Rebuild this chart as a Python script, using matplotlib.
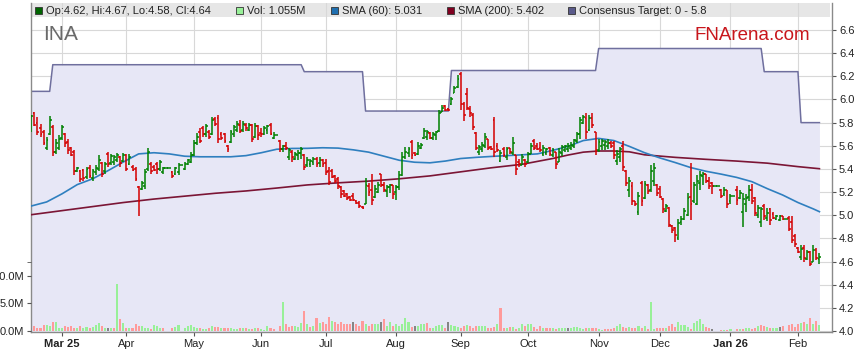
import numpy as np
import pandas as pd
import matplotlib
matplotlib.use('Agg')
import matplotlib.pyplot as plt
from matplotlib.collections import LineCollection
from matplotlib.patches import Rectangle
from matplotlib.ticker import FuncFormatter, FixedLocator

plt.rcParams['font.family'] = ['Liberation Sans', 'DejaVu Sans']

# trading days (weekdays, holidays shown as flat bars with no volume)
dates = pd.bdate_range('2025-02-17', '2026-02-11')

opens = [
    5.73, 5.88, 5.80, 5.75, 5.72, 5.58, 5.70, 5.76, 5.55, 5.58,
    5.67, 5.70, 5.63, 5.58, 5.55, 5.38, 5.38, 5.39, 5.33, 5.41,
    5.32, 5.37, 5.40, 5.45, 5.38, 5.53, 5.45, 5.46, 5.48, 5.50,
    5.47, 5.52, 5.44, 5.42, 5.40, 5.24, 5.23, 5.25, 5.40, 5.44,
    5.42, 5.44, 5.40, 5.37, 5.41, 5.41, 5.37, 5.36, 5.37, 5.43,
    5.40, 5.44, 5.46, 5.52, 5.62, 5.72, 5.75, 5.70, 5.72, 5.70,
    5.83, 5.84, 5.70, 5.70, 5.60, 5.63, 5.70, 5.74, 5.78, 5.74,
    5.78, 5.74, 5.78, 5.68, 5.77, 5.71, 5.70, 5.74, 5.78, 5.67,
    5.69, 5.64, 5.57, 5.60, 5.50, 5.55, 5.49, 5.52, 5.54, 5.52,
    5.43, 5.44, 5.46, 5.49, 5.45, 5.48, 5.45, 5.38, 5.38, 5.34,
    5.31, 5.24, 5.21, 5.18, 5.16, 5.17, 5.12, 5.11, 5.07, 5.10,
    5.25, 5.22, 5.16, 5.20, 5.36, 5.26, 5.21, 5.24, 5.26, 5.20,
    5.24, 5.35, 5.50, 5.54, 5.63, 5.54, 5.53, 5.58, 5.67, 5.68,
    5.71, 5.67, 5.69, 5.73, 5.89, 5.94, 5.92, 5.96, 6.06, 6.11,
    6.22, 5.96, 6.05, 5.92, 5.87, 5.71, 5.55, 5.57, 5.60, 5.66,
    5.59, 5.82, 5.60, 5.47, 5.57, 5.50, 5.58, 5.54, 5.52, 5.46,
    5.43, 5.48, 5.46, 5.53, 5.64, 5.60, 5.58, 5.53, 5.54, 5.58,
    5.52, 5.55, 5.46, 5.54, 5.56, 5.57, 5.58, 5.60, 5.64, 5.70,
    5.80, 5.84, 5.74, 5.84, 5.72, 5.56, 5.60, 5.61, 5.60, 5.62,
    5.62, 5.47, 5.50, 5.60, 5.38, 5.22, 5.25, 5.12, 5.03, 5.28,
    5.15, 5.26, 5.22, 5.30, 5.26, 5.23, 5.14, 5.04, 5.06, 4.91,
    4.89, 4.80, 4.94, 4.97, 5.00, 5.16, 5.12, 5.10, 5.28, 5.34,
    5.36, 5.30, 5.28, 5.25, 5.25, 5.22, 5.18, 5.22, 5.12, 5.17,
    5.22, 5.15, 5.03, 5.10, 5.16, 5.22, 5.15, 5.00, 4.94, 5.08,
    4.98, 5.05, 5.01, 4.97, 4.96, 4.99, 4.97, 4.98, 4.94, 4.82,
    4.72, 4.64, 4.72, 4.62, 4.68, 4.60, 4.70, 4.62,
]
highs = [
    5.87, 5.89, 5.85, 5.79, 5.74, 5.68, 5.86, 5.78, 5.66, 5.69,
    5.78, 5.71, 5.66, 5.59, 5.56, 5.42, 5.39, 5.40, 5.42, 5.43,
    5.40, 5.43, 5.52, 5.46, 5.46, 5.55, 5.53, 5.52, 5.54, 5.51,
    5.54, 5.53, 5.53, 5.43, 5.42, 5.25, 5.30, 5.40, 5.58, 5.46,
    5.43, 5.46, 5.48, 5.42, 5.41, 5.41, 5.38, 5.42, 5.45, 5.43,
    5.46, 5.49, 5.55, 5.65, 5.71, 5.75, 5.77, 5.79, 5.74, 5.85,
    5.85, 5.87, 5.72, 5.71, 5.61, 5.74, 5.78, 5.81, 5.82, 5.81,
    5.80, 5.80, 5.79, 5.80, 5.78, 5.75, 5.77, 5.78, 5.80, 5.72,
    5.69, 5.65, 5.61, 5.63, 5.58, 5.56, 5.55, 5.56, 5.59, 5.53,
    5.50, 5.49, 5.50, 5.50, 5.50, 5.49, 5.49, 5.42, 5.40, 5.35,
    5.33, 5.25, 5.22, 5.19, 5.17, 5.19, 5.13, 5.12, 5.08, 5.32,
    5.28, 5.36, 5.26, 5.29, 5.36, 5.29, 5.26, 5.27, 5.26, 5.26,
    5.38, 5.55, 5.59, 5.59, 5.65, 5.55, 5.63, 5.62, 5.75, 5.74,
    5.72, 5.72, 5.73, 5.91, 5.95, 5.95, 5.93, 6.02, 6.12, 6.21,
    6.24, 5.98, 6.10, 5.94, 5.88, 5.72, 5.61, 5.63, 5.71, 5.66,
    5.60, 5.85, 5.62, 5.56, 5.59, 5.59, 5.58, 5.68, 5.52, 5.49,
    5.53, 5.49, 5.55, 5.62, 5.66, 5.62, 5.63, 5.61, 5.58, 5.59,
    5.58, 5.55, 5.58, 5.61, 5.61, 5.62, 5.63, 5.66, 5.72, 5.85,
    5.87, 5.88, 5.87, 5.88, 5.72, 5.66, 5.66, 5.65, 5.66, 5.64,
    5.64, 5.56, 5.59, 5.64, 5.39, 5.33, 5.29, 5.12, 5.20, 5.30,
    5.30, 5.27, 5.43, 5.45, 5.27, 5.25, 5.15, 5.10, 5.07, 4.92,
    4.90, 4.97, 4.99, 5.06, 5.19, 5.45, 5.29, 5.35, 5.38, 5.37,
    5.36, 5.33, 5.29, 5.25, 5.25, 5.23, 5.24, 5.22, 5.18, 5.17,
    5.25, 5.22, 5.19, 5.18, 5.26, 5.27, 5.16, 5.09, 5.07, 5.10,
    5.06, 5.06, 5.03, 5.00, 5.00, 4.99, 4.97, 4.99, 4.99, 4.84,
    4.73, 4.74, 4.74, 4.70, 4.69, 4.74, 4.72, 4.67,
]
lows = [
    5.72, 5.77, 5.69, 5.68, 5.61, 5.56, 5.69, 5.51, 5.53, 5.56,
    5.65, 5.59, 5.53, 5.51, 5.35, 5.37, 5.29, 5.30, 5.31, 5.32,
    5.30, 5.35, 5.38, 5.33, 5.36, 5.42, 5.43, 5.43, 5.46, 5.42,
    5.46, 5.38, 5.43, 5.38, 5.30, 4.99, 5.22, 5.23, 5.38, 5.36,
    5.38, 5.36, 5.38, 5.36, 5.41, 5.41, 5.32, 5.35, 5.35, 5.43,
    5.39, 5.43, 5.45, 5.51, 5.61, 5.62, 5.68, 5.68, 5.66, 5.69,
    5.77, 5.62, 5.65, 5.62, 5.55, 5.62, 5.68, 5.72, 5.71, 5.72,
    5.73, 5.73, 5.63, 5.67, 5.65, 5.68, 5.69, 5.70, 5.69, 5.66,
    5.69, 5.55, 5.55, 5.56, 5.48, 5.46, 5.48, 5.48, 5.49, 5.39,
    5.42, 5.42, 5.43, 5.42, 5.42, 5.42, 5.35, 5.26, 5.32, 5.28,
    5.23, 5.15, 5.16, 5.13, 5.12, 5.12, 5.10, 5.06, 5.05, 5.10,
    5.17, 5.09, 5.15, 5.19, 5.24, 5.20, 5.16, 5.19, 5.14, 5.13,
    5.22, 5.34, 5.49, 5.50, 5.49, 5.51, 5.52, 5.57, 5.66, 5.65,
    5.66, 5.65, 5.65, 5.72, 5.89, 5.90, 5.90, 5.95, 6.06, 6.10,
    5.91, 5.81, 5.91, 5.85, 5.74, 5.56, 5.52, 5.55, 5.58, 5.56,
    5.56, 5.50, 5.55, 5.46, 5.50, 5.48, 5.53, 5.52, 5.35, 5.42,
    5.43, 5.42, 5.45, 5.53, 5.56, 5.56, 5.55, 5.51, 5.52, 5.51,
    5.50, 5.40, 5.46, 5.51, 5.55, 5.55, 5.56, 5.58, 5.62, 5.66,
    5.79, 5.66, 5.73, 5.75, 5.52, 5.55, 5.56, 5.56, 5.57, 5.58,
    5.49, 5.43, 5.46, 5.38, 5.25, 5.16, 5.09, 5.08, 5.00, 5.08,
    5.14, 5.18, 5.20, 5.25, 5.17, 5.15, 5.02, 5.03, 4.90, 4.85,
    4.77, 4.79, 4.92, 4.96, 4.99, 4.96, 5.11, 5.09, 5.22, 5.26,
    5.28, 5.23, 5.18, 5.25, 5.25, 5.15, 5.17, 5.06, 5.10, 5.17,
    5.09, 5.14, 4.90, 5.03, 5.12, 5.10, 4.99, 4.98, 4.90, 4.96,
    4.95, 4.92, 4.97, 4.96, 4.95, 4.96, 4.97, 4.86, 4.76, 4.73,
    4.67, 4.61, 4.60, 4.61, 4.56, 4.60, 4.61, 4.58,
]
closes = [
    5.86, 5.78, 5.72, 5.70, 5.62, 5.65, 5.82, 5.55, 5.62, 5.66,
    5.76, 5.62, 5.56, 5.52, 5.38, 5.41, 5.31, 5.32, 5.40, 5.34,
    5.38, 5.41, 5.48, 5.36, 5.44, 5.44, 5.51, 5.50, 5.52, 5.45,
    5.52, 5.40, 5.50, 5.39, 5.31, 5.12, 5.28, 5.37, 5.55, 5.38,
    5.39, 5.40, 5.46, 5.41, 5.41, 5.41, 5.34, 5.41, 5.43, 5.43,
    5.44, 5.48, 5.52, 5.62, 5.68, 5.64, 5.70, 5.77, 5.68, 5.82,
    5.79, 5.66, 5.67, 5.64, 5.57, 5.72, 5.76, 5.79, 5.73, 5.79,
    5.75, 5.78, 5.66, 5.77, 5.69, 5.70, 5.75, 5.77, 5.70, 5.69,
    5.69, 5.57, 5.60, 5.58, 5.56, 5.50, 5.53, 5.54, 5.57, 5.42,
    5.48, 5.47, 5.49, 5.44, 5.48, 5.44, 5.37, 5.29, 5.33, 5.30,
    5.25, 5.18, 5.17, 5.15, 5.13, 5.13, 5.11, 5.08, 5.06, 5.26,
    5.20, 5.13, 5.23, 5.26, 5.26, 5.22, 5.24, 5.26, 5.18, 5.24,
    5.35, 5.50, 5.55, 5.57, 5.52, 5.52, 5.60, 5.61, 5.73, 5.72,
    5.67, 5.70, 5.72, 5.88, 5.93, 5.91, 5.91, 6.00, 6.10, 6.18,
    5.96, 5.87, 5.93, 5.88, 5.76, 5.58, 5.59, 5.61, 5.68, 5.58,
    5.57, 5.55, 5.56, 5.54, 5.52, 5.57, 5.55, 5.62, 5.40, 5.44,
    5.50, 5.44, 5.53, 5.60, 5.58, 5.57, 5.56, 5.58, 5.57, 5.53,
    5.56, 5.44, 5.55, 5.59, 5.60, 5.60, 5.61, 5.65, 5.70, 5.82,
    5.85, 5.72, 5.84, 5.78, 5.56, 5.63, 5.64, 5.63, 5.62, 5.60,
    5.52, 5.53, 5.57, 5.42, 5.28, 5.30, 5.12, 5.10, 5.17, 5.12,
    5.27, 5.21, 5.38, 5.41, 5.19, 5.16, 5.05, 5.08, 4.92, 4.87,
    4.83, 4.93, 4.97, 5.04, 5.15, 5.10, 5.26, 5.30, 5.35, 5.36,
    5.30, 5.25, 5.25, 5.25, 5.25, 5.17, 5.22, 5.10, 5.17, 5.17,
    5.13, 5.19, 5.14, 5.15, 5.22, 5.12, 5.02, 5.06, 5.05, 4.99,
    5.02, 4.96, 4.98, 4.99, 4.99, 4.97, 4.97, 4.88, 4.79, 4.75,
    4.68, 4.71, 4.63, 4.68, 4.58, 4.70, 4.63, 4.64,
]
# volume in millions
volumes = [
    0.5, 0.9, 0.6, 0.5, 1.1, 1.1, 0.9, 1.6, 1.7, 0.6,
    0.6, 0.9, 0.7, 0.9, 0.6, 0.6, 0.9, 0.6, 0.7, 0.5,
    0.7, 1.1, 1.5, 0.9, 0.6, 0.5, 0.5, 0.5, 8.6, 2.1,
    1.5, 0.5, 0.6, 0.5, 1.3, 0.9, 0.9, 0.6, 0.6, 0.3,
    1.1, 0.9, 0.6, 0.6, 0.0, 0.0, 0.6, 0.7, 1.1, 0.0,
    0.6, 0.9, 1.1, 0.7, 0.5, 0.5, 0.3, 0.3, 0.5, 0.9,
    0.7, 0.7, 0.6, 0.6, 0.6, 0.5, 0.3, 0.3, 0.5, 0.5,
    0.5, 0.4, 0.4, 0.5, 0.6, 0.4, 0.2, 0.9, 0.5, 0.3,
    0.0, 0.9, 5.2, 1.3, 0.7, 0.9, 0.9, 0.7, 1.5, 3.6,
    1.2, 0.7, 0.9, 2.4, 1.5, 1.6, 1.2, 2.6, 1.8, 1.6,
    1.2, 1.6, 1.2, 1.2, 1.2, 1.6, 1.2, 1.0, 1.8, 1.2,
    0.9, 1.3, 1.3, 1.3, 1.6, 2.1, 0.9, 1.6, 0.9, 1.2,
    0.9, 1.3, 2.3, 1.7, 0.7, 0.9, 0.9, 1.3, 1.2, 1.5,
    0.6, 0.5, 0.9, 1.1, 1.1, 0.6, 1.7, 1.1, 0.9, 0.7,
    0.6, 0.9, 1.1, 0.9, 0.6, 0.9, 0.9, 0.9, 0.9, 0.6,
    0.6, 0.7, 1.2, 4.2, 0.6, 0.6, 0.7, 0.7, 0.3, 0.5,
    1.3, 0.9, 1.3, 1.2, 0.7, 0.3, 0.9, 0.5, 0.5, 0.5,
    0.5, 0.3, 0.5, 0.5, 0.5, 0.6, 0.6, 0.7, 0.7, 0.5,
    0.3, 0.5, 0.6, 0.6, 0.5, 0.3, 0.2, 0.3, 0.3, 0.3,
    0.6, 0.9, 1.2, 0.7, 0.5, 0.7, 0.5, 0.6, 0.9, 0.6,
    0.9, 0.3, 5.2, 0.3, 0.6, 0.6, 0.5, 0.5, 0.9, 1.2,
    0.7, 1.7, 1.1, 1.1, 0.7, 0.3, 1.5, 1.8, 2.1, 1.3,
    0.7, 0.6, 0.3, 0.0, 0.0, 0.2, 0.2, 0.2, 0.3, 0.0,
    0.3, 0.3, 0.3, 0.6, 0.6, 0.3, 0.5, 0.9, 1.1, 0.9,
    0.7, 0.5, 0.6, 0.6, 0.7, 0.9, 0.0, 1.1, 1.2, 0.7,
    1.2, 1.5, 1.7, 1.2, 2.4, 1.3, 1.8, 1.055,
]

# moving averages at selected bars
sma60_idx = [0, 5, 10, 15, 20, 25, 30, 35, 40, 45, 50, 55, 60, 65, 70, 75, 80, 85,
             90, 95, 100, 105, 110, 115, 120, 125, 130, 135, 140, 145, 150, 155, 160,
             165, 170, 175, 180, 185, 190, 195, 200, 205, 210, 215, 220, 225, 230,
             235, 240, 245, 250, 255, 257]
sma60_val = [5.08, 5.115, 5.185, 5.265, 5.315, 5.385, 5.46, 5.53, 5.54, 5.53, 5.51,
             5.505, 5.505, 5.505, 5.515, 5.54, 5.57, 5.577, 5.578, 5.583, 5.58, 5.565,
             5.545, 5.51, 5.475, 5.458, 5.453, 5.468, 5.49, 5.50, 5.508, 5.515, 5.522,
             5.53, 5.56, 5.595, 5.645, 5.664, 5.645, 5.595, 5.54, 5.495, 5.455, 5.412,
             5.38, 5.355, 5.327, 5.29, 5.23, 5.175, 5.11, 5.055, 5.031]
sma200_idx = [0, 10, 20, 30, 40, 50, 60, 70, 80, 90, 100, 110, 120, 130, 140, 150, 160,
              170, 175, 180, 185, 190, 195, 200, 210, 220, 230, 240, 250, 257]
sma200_val = [5.005, 5.04, 5.075, 5.11, 5.14, 5.165, 5.19, 5.21, 5.235, 5.262, 5.28,
              5.295, 5.315, 5.34, 5.375, 5.41, 5.44, 5.49, 5.52, 5.545, 5.555, 5.555,
              5.548, 5.522, 5.50, 5.483, 5.468, 5.45, 5.42, 5.402]

# consensus target: bar index where each level starts
target_start = [0, 7, 89, 109, 137, 185, 239, 251]
target_value = [6.07, 6.30, 6.24, 5.90, 6.25, 6.44, 6.24, 5.80]

n = len(dates)
x = np.arange(n)
o = np.array(opens); h = np.array(highs); l = np.array(lows); c = np.array(closes)
vol = np.array(volumes)
target = np.repeat(target_value, np.diff(target_start + [n]))

W, H = 859, 363
fig = plt.figure(figsize=(W / 100, H / 100), dpi=100)
ax = fig.add_axes([31 / W, 1 - 332 / H, (832 - 31) / W, (332 - 3) / H])
axv = ax.twinx()

ax.set_xlim(-0.1, 261.1)
ax.set_ylim(3.992, 6.833)
ax.set_axisbelow(True)

# target line with lavender area under it
ax.fill_between(x, 3.9, target, color='#e7e7f6', zorder=1, lw=0)
ax.plot(x, target, color='#6f6f9e', lw=1.1, zorder=2)

# moving averages
ax.plot(sma200_idx, sma200_val, color='#7b1535', lw=1.2, zorder=3)
ax.plot(sma60_idx, sma60_val, color='#2f7fbf', lw=1.2, zorder=3)

# OHLC bars
up, down = '#008000', '#d40000'
tw = 0.6
segs, cols = [], []
for i in range(n):
    col = up if c[i] >= o[i] else down
    segs.append([(x[i], l[i]), (x[i], h[i])])
    segs.append([(x[i] - tw, o[i]), (x[i], o[i])])
    segs.append([(x[i], c[i]), (x[i] + tw, c[i])])
    cols += [col] * 3
ax.add_collection(LineCollection(segs, colors=cols, linewidths=1.1, zorder=4))

# month ticks
month_idx, month_lab = [], []
for i in range(1, n):
    if dates[i].month != dates[i - 1].month:
        month_idx.append(i)
        if dates[i].month == 1 or not month_lab:
            month_lab.append(dates[i].strftime('%b %y'))
        else:
            month_lab.append(dates[i].strftime('%b'))
ax.set_xticks(month_idx)
ax.set_xticklabels(month_lab, fontsize=8, color='#222222')
for t in ax.get_xticklabels():
    if ' ' in t.get_text():
        t.set_fontweight('bold')

yt = np.round(np.arange(4.0, 6.61, 0.2), 1)
ax.set_yticks(yt)
ax.yaxis.set_major_formatter(FuncFormatter(lambda v, p: f'{v:.1f}'))
ax.yaxis.tick_right()
ax.yaxis.set_label_position('right')
ax.tick_params(axis='y', labelsize=8, labelcolor='#222222', length=3, pad=2,
               color='#555555', left=False, labelleft=False, right=True, labelright=True)
ax.tick_params(axis='x', length=3, pad=2, color='#555555')
ax.grid(True, color='#d8d8d8', lw=0.8)

ax.spines['top'].set_visible(False)
for s in ['left', 'right', 'bottom']:
    ax.spines[s].set_color('#8a8a8a')
    ax.spines[s].set_linewidth(1.0)

# volume on left axis
axv.set_ylim(-0.18, 59.6)
prev = np.r_[c[0], c[:-1]]
vcols = np.where(c > prev, '#98f098', np.where(c < prev, '#ff9a9a', '#858585'))
axv.bar(x, vol, width=0.68, color=vcols, zorder=2, lw=0)
axv.yaxis.tick_left()
axv.yaxis.set_label_position('left')
axv.set_yticks([0, 5, 10])
axv.yaxis.set_minor_locator(FixedLocator([12.5]))
axv.yaxis.set_major_formatter(FuncFormatter(lambda v, p: f'{v:.1f}M'))
axv.tick_params(axis='y', which='both', labelsize=8, labelcolor='#222222', length=3,
                pad=2, color='#555555', left=True, labelleft=True, right=False,
                labelright=False)
for s in axv.spines.values():
    s.set_visible(False)

# legend bar at the top of the plot
ax.add_patch(Rectangle((0, 1 - 14 / 329), 799 / 801, 14 / 329, transform=ax.transAxes,
                       facecolor='#e6e6e6', edgecolor='none', zorder=0.4))

def px(xp, yp):
    return xp / W, 1 - yp / H

legend_items = [
    (35, '#006400', 'Op:4.62, Hi:4.67, Lo:4.58, Cl:4.64'),
    (236, '#98f098', 'Vol: 1.055M'),
    (331, '#1f6fb0', 'SMA (60): 5.031'),
    (447, '#800020', 'SMA (200): 5.402'),
    (568, '#5a5a8a', 'Consensus Target: 0 - 5.8'),
]
for xp, col, txt in legend_items:
    fig.add_artist(Rectangle(px(xp, 14), 7 / W, 7 / H, transform=fig.transFigure,
                             facecolor=col, edgecolor='#333333', lw=0.6, zorder=5))
    fig.text(*px(xp + 11, 10.5), txt, fontsize=8, color='#222222', va='center',
             ha='left', zorder=5)

fig.text(*px(43, 40), 'INA', fontsize=15, color='#6a6a6a', va='baseline', ha='left')
fig.text(*px(695, 40), 'FNArena.com', fontsize=13.5, color='#c8161c',
         va='baseline', ha='left')

fig.savefig('out.png', dpi=100)
